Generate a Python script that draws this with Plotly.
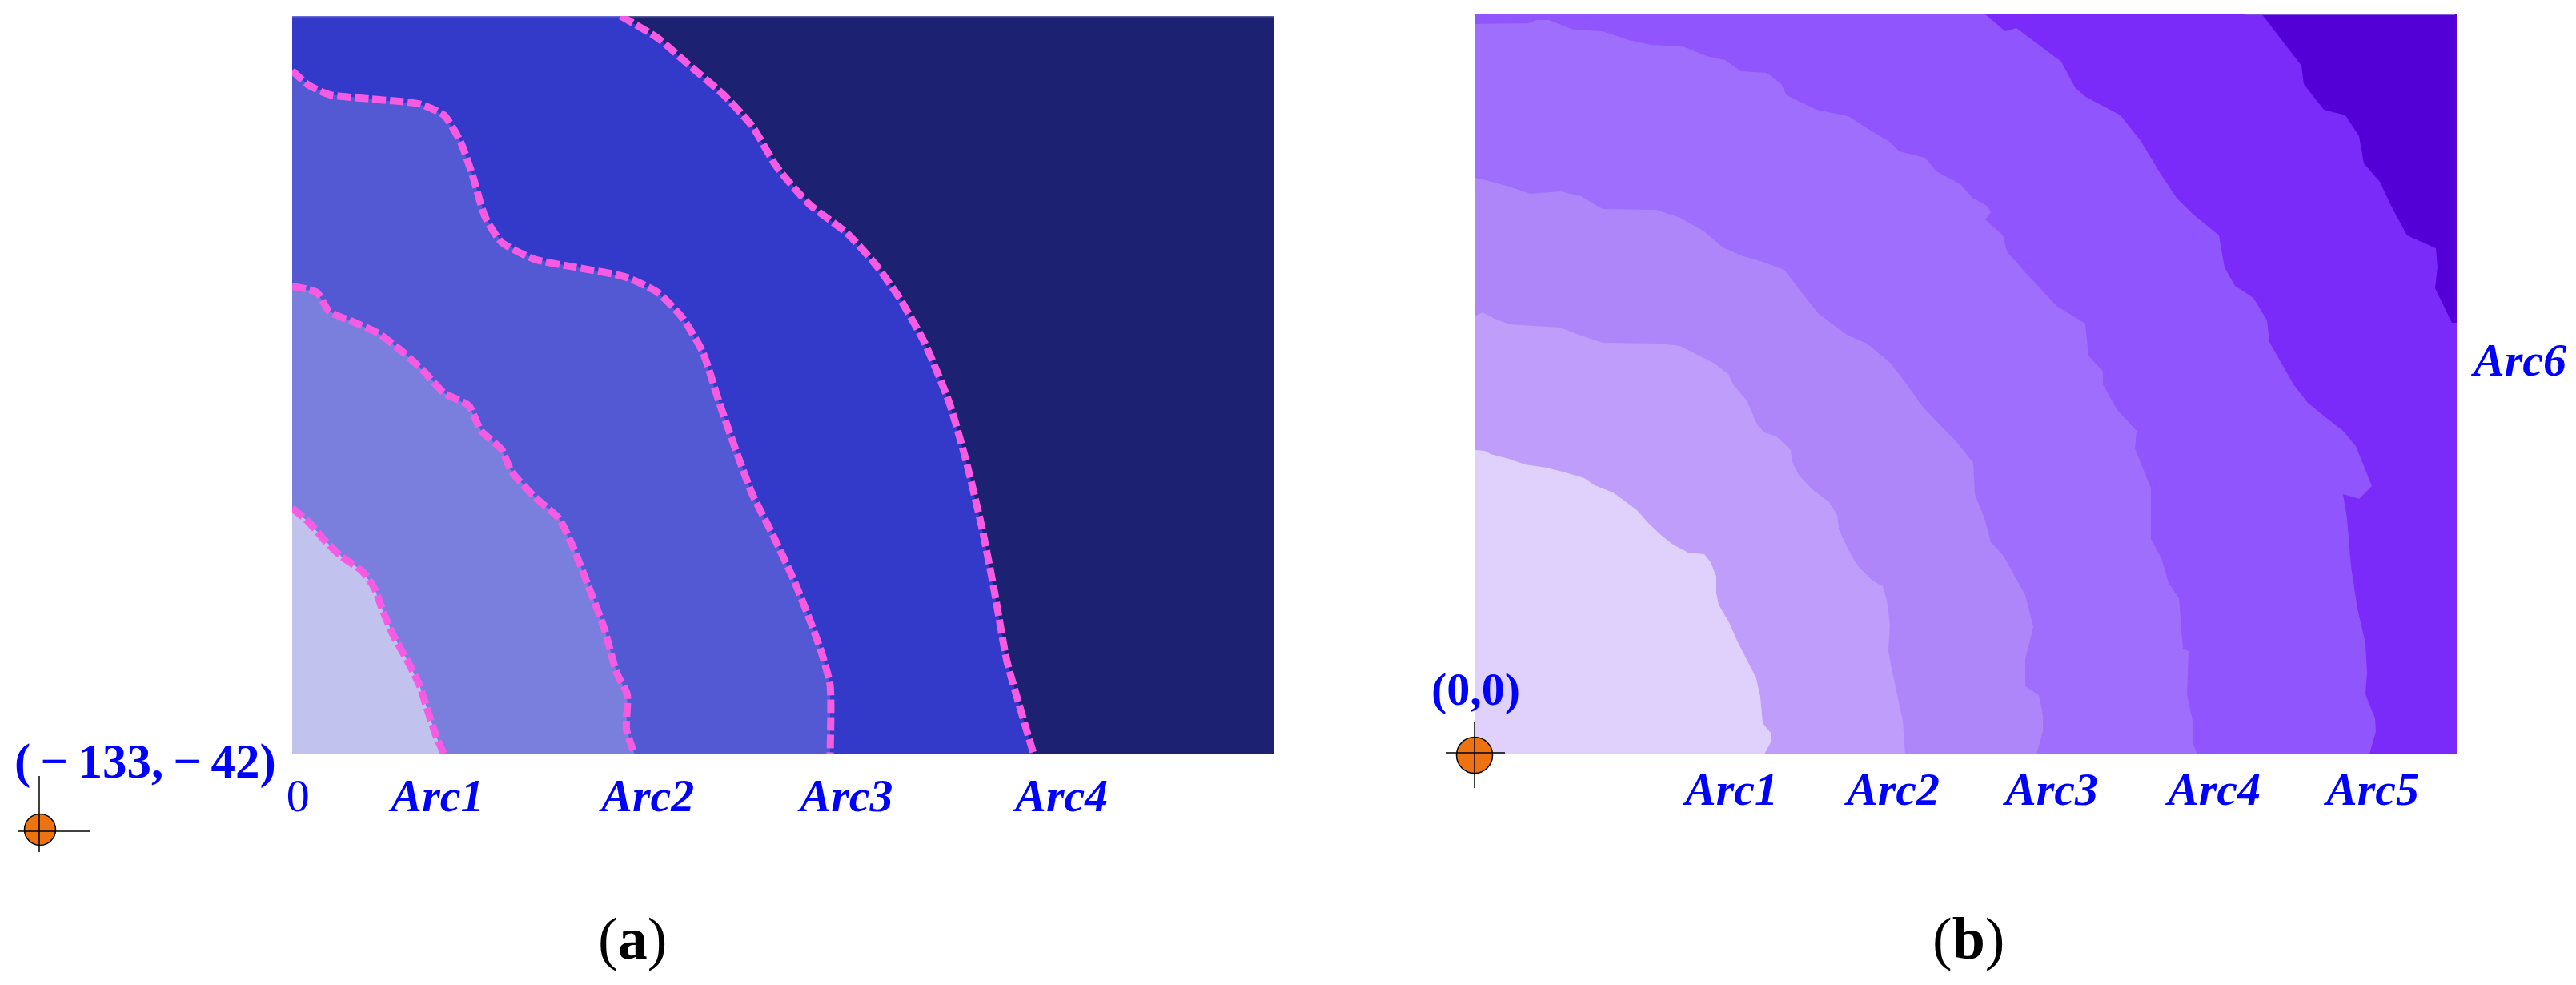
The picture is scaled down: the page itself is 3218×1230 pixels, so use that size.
"""Contour bands of two arc fields, panels (a) and (b)."""
import plotly.graph_objects as go

WIDTH = 3218
HEIGHT = 1230
SERIF = "Liberation Serif"
BLUE = "#0000FF"
MINUS = "\u2009\u2212\u2009"

# panel extents in data units
A_XMAX, A_YMAX = 1195, 1175
B_XMAX, B_YMAX = 1227, 925

# panel (a) boundaries, inner to outer
a_arc1_x = [0, 20, 40, 60, 85, 100, 110, 123, 140, 155, 165, 175, 185]
a_arc1_y = [392, 370, 340, 315, 292, 265, 230, 190, 150, 110, 70, 30, 0]
a_arc2_x = [0, 30, 45, 75, 105, 135, 160, 185, 215, 230, 255, 267, 295, 325, 342, 360, 380, 395, 408, 407, 417]
a_arc2_y = [745, 735, 705, 688, 670, 640, 610, 575, 555, 515, 485, 450, 410, 375, 330, 270, 200, 130, 95, 40, 0]
a_arc3_x = [0, 20, 45, 95, 155, 185, 205, 220, 235, 255, 295, 345, 405, 445, 475, 500, 520, 540, 560, 585, 610, 630, 645, 655, 655]
a_arc3_y = [1088, 1065, 1050, 1043, 1035, 1017, 975, 920, 855, 815, 788, 775, 760, 735, 695, 640, 560, 485, 415, 350, 280, 215, 160, 110, 0]
a_arc4_x = [400, 445, 485, 525, 560, 590, 630, 675, 710, 740, 770, 800, 820, 840, 855, 870, 885, 903]
a_arc4_y = [1175, 1140, 1095, 1050, 1000, 935, 875, 830, 780, 725, 655, 560, 470, 360, 260, 150, 80, 0]
a_fill = ["#C1C3EE", "#7A7EDC", "#5359D2", "#333AC9"]
a_background = "#1C2171"
a_top_edge_x = [0, 1195]
a_top_edge_y = [1174, 1174]

# panel (b) boundaries, inner to outer
b_arc1_x = [0, 13, 20, 43, 63, 90, 117, 137, 150, 173, 187, 203, 217, 233, 248, 267, 287, 295, 302, 302, 305, 318, 328, 342, 352, 357, 360, 370, 370, 362]
b_arc1_y = [380, 379, 375, 369, 362, 358, 351, 345, 336, 327, 317, 305, 289, 274, 262, 252, 250, 240, 222, 202, 187, 165, 142, 115, 95, 72, 39, 27, 15, 0]
b_arc2_x = [0, 10, 23, 43, 107, 133, 160, 233, 257, 277, 300, 317, 323, 340, 353, 362, 377, 395, 397, 405, 423, 443, 453, 455, 467, 480, 497, 510, 515, 519, 517, 520, 527, 535, 538]
b_arc2_y = [547, 552, 545, 537, 533, 523, 514, 513, 510, 500, 488, 475, 462, 442, 412, 402, 397, 380, 365, 349, 330, 315, 299, 282, 255, 234, 217, 210, 192, 162, 129, 112, 79, 42, 0]
b_arc3_x = [0, 10, 40, 70, 107, 133, 160, 227, 257, 287, 310, 333, 360, 387, 410, 430, 450, 467, 490, 510, 520, 540, 560, 583, 603, 623, 625, 638, 645, 660, 677, 688, 698, 688, 688, 705, 710, 710, 702]
b_arc3_y = [720, 718, 710, 700, 703, 697, 681, 680, 670, 653, 633, 623, 615, 605, 575, 550, 535, 523, 513, 497, 488, 462, 434, 410, 389, 364, 325, 292, 265, 249, 219, 199, 159, 119, 85, 74, 49, 29, 0]
b_arc4_x = [0, 67, 77, 93, 123, 160, 193, 220, 260, 290, 313, 333, 365, 383, 390, 427, 467, 490, 520, 530, 563, 577, 607, 622, 640, 645, 638, 660, 665, 687, 727, 763, 767, 785, 785, 803, 827, 825, 845, 845, 858, 867, 880, 885, 892, 890, 897, 898, 903]
b_arc4_y = [912, 913, 917, 917, 905, 903, 892, 886, 884, 872, 867, 853, 851, 837, 823, 805, 797, 782, 764, 753, 745, 728, 712, 695, 685, 677, 668, 648, 628, 603, 560, 538, 498, 478, 462, 430, 404, 382, 332, 269, 245, 214, 195, 132, 129, 75, 42, 12, 0]
b_arc5_x = [637, 663, 677, 733, 750, 762, 807, 833, 857, 877, 897, 930, 937, 950, 973, 990, 993, 1023, 1041, 1058, 1085, 1101, 1121, 1105, 1085, 1090, 1095, 1103, 1113, 1115, 1113, 1125, 1126, 1118]
b_arc5_y = [925, 903, 907, 865, 833, 822, 798, 765, 725, 695, 675, 648, 608, 585, 570, 542, 515, 462, 439, 425, 404, 385, 335, 319, 325, 295, 235, 182, 139, 102, 75, 45, 29, 0]
b_arc6_x = [983, 1001, 1033, 1036, 1061, 1088, 1105, 1111, 1131, 1145, 1165, 1201, 1203, 1200, 1221, 1227]
b_arc6_y = [925, 902, 860, 837, 805, 798, 772, 738, 715, 685, 648, 632, 608, 582, 539, 539]
b_fill = ["#E0D0FC", "#BE9DFB", "#AE86FA", "#A06EFC", "#9155FE", "#7A2BF9"]
b_background = "#5300D6"
b_top_edge_x = [963, 1225]
b_top_edge_y = [924, 924]

a_ticks = ["0", "<b><i>Arc1</i></b>", "<b><i>Arc2</i></b>", "<b><i>Arc3</i></b>", "<b><i>Arc4</i></b>"]
a_tick_pos = [7, 177, 433, 675, 937]
b_ticks = ["<b><i>Arc1</i></b>", "<b><i>Arc2</i></b>", "<b><i>Arc3</i></b>", "<b><i>Arc4</i></b>", "<b><i>Arc5</i></b>"]
b_tick_pos = [321, 523, 721, 924, 1122]
b_right_ticks = ["<b><i>Arc6</i></b>"]
b_right_tick_pos = [493]

# reference points and their cross hairs, page scale
a_origin_x, a_origin_y = [50], [1036]
a_cross_x = [22, 112, None, 49, 49]
a_cross_y = [1038, 1038, None, 969, 1064]
b_origin_x, b_origin_y = [1842], [943]
b_cross_x = [1806, 1880, None, 1842, 1842]
b_cross_y = [940, 940, None, 901, 984]


def band_polygon(xs, ys, xmax, ymax):
    """Close a boundary back through the origin corner of the panel."""
    px, py = list(xs), list(ys)
    if px[-1] == xmax:
        px.append(xmax)
        py.append(0)
    px.append(0)
    py.append(0)
    if px[0] > 0:
        px.append(0)
        py.append(ymax)
    px.append(xs[0])
    py.append(ys[0])
    return px, py


fig = go.Figure()

a_arcs = [(a_arc1_x, a_arc1_y), (a_arc2_x, a_arc2_y), (a_arc3_x, a_arc3_y), (a_arc4_x, a_arc4_y)]
for (xs, ys), color in reversed(list(zip(a_arcs, a_fill))):
    px, py = band_polygon(xs, ys, A_XMAX, A_YMAX)
    fig.add_trace(go.Scatter(x=px, y=py, mode="lines", fill="toself", fillcolor=color,
                             line={"width": 0}, hoverinfo="skip", showlegend=False, xaxis="x", yaxis="y"))
fig.add_trace(go.Scatter(x=a_top_edge_x, y=a_top_edge_y, mode="lines", line={"color": "rgba(255,255,255,0.25)", "width": 1.5},
                         hoverinfo="skip", showlegend=False, xaxis="x", yaxis="y"))
for xs, ys in a_arcs:
    fig.add_trace(go.Scatter(x=xs, y=ys, mode="lines", line={"color": "#F65CE3", "width": 9, "dash": "17px,5px", "shape": "spline", "smoothing": 0.6},
                             hoverinfo="skip", showlegend=False, xaxis="x", yaxis="y", cliponaxis=False))

b_arcs = [(b_arc1_x, b_arc1_y), (b_arc2_x, b_arc2_y), (b_arc3_x, b_arc3_y), (b_arc4_x, b_arc4_y), (b_arc5_x, b_arc5_y), (b_arc6_x, b_arc6_y)]
for (xs, ys), color in reversed(list(zip(b_arcs, b_fill))):
    px, py = band_polygon(xs, ys, B_XMAX, B_YMAX)
    fig.add_trace(go.Scatter(x=px, y=py, mode="lines", fill="toself", fillcolor=color,
                             line={"width": 0}, hoverinfo="skip", showlegend=False, xaxis="x2", yaxis="y2"))
fig.add_trace(go.Scatter(x=b_top_edge_x, y=b_top_edge_y, mode="lines", line={"color": "#8A55DD", "width": 2},
                         hoverinfo="skip", showlegend=False, xaxis="x2", yaxis="y2"))

for ox, oy, cx, cy, size in (
    (a_origin_x, a_origin_y, a_cross_x, a_cross_y, 39),
    (b_origin_x, b_origin_y, b_cross_x, b_cross_y, 45),
):
    fig.add_trace(go.Scatter(x=ox, y=oy, mode="markers", marker={"color": "#EC730F", "size": size, "line": {"color": "black", "width": 1.5}},
                             hoverinfo="skip", showlegend=False, xaxis="x3", yaxis="y3"))
    fig.add_trace(go.Scatter(x=cx, y=cy, mode="lines", line={"color": "black", "width": 1.5},
                             hoverinfo="skip", showlegend=False, xaxis="x3", yaxis="y3"))

tick_font = {"family": SERIF, "size": 58, "color": BLUE}
coord_font = {"family": SERIF, "size": 61, "color": BLUE}
label_font = {"family": SERIF, "size": 74, "color": "black"}
plain_axis = {"showgrid": False, "zeroline": False, "automargin": False, "ticks": ""}
fig.update_layout(
    width=WIDTH,
    height=HEIGHT,
    margin={"l": 0, "r": 0, "t": 0, "b": 0},
    paper_bgcolor="white",
    plot_bgcolor="rgba(0,0,0,0)",
    xaxis={"domain": [365 / WIDTH, 1591 / WIDTH], "range": [0, A_XMAX], "tickmode": "array", "tickvals": a_tick_pos,
           "ticktext": a_ticks, "tickfont": tick_font, "ticklabelstandoff": 12, "tickangle": 0, "anchor": "y", **plain_axis},
    yaxis={"domain": [1 - 942 / HEIGHT, 1 - 20 / HEIGHT], "range": [0, A_YMAX], "anchor": "x", "showticklabels": False, **plain_axis},
    xaxis2={"domain": [1842 / WIDTH, 3069 / WIDTH], "range": [0, B_XMAX], "tickmode": "array", "tickvals": b_tick_pos,
            "ticktext": b_ticks, "tickfont": tick_font, "ticklabelstandoff": 4, "tickangle": 0, "anchor": "y2", **plain_axis},
    yaxis2={"domain": [1 - 942 / HEIGHT, 1 - 17 / HEIGHT], "range": [0, B_YMAX], "anchor": "x2", "side": "right", "tickmode": "array",
            "tickvals": b_right_tick_pos, "ticktext": b_right_ticks, "tickfont": tick_font, "ticklabelstandoff": 20, **plain_axis},
    xaxis3={"domain": [0, 1], "range": [0, WIDTH], "visible": False, "anchor": "y3"},
    yaxis3={"domain": [0, 1], "range": [HEIGHT, 0], "visible": False, "anchor": "x3"},
    shapes=[
        {"type": "rect", "xref": "x domain", "yref": "y domain", "x0": 0, "x1": 1, "y0": 0, "y1": 1,
         "fillcolor": a_background, "line": {"width": 0}, "layer": "below"},
        {"type": "rect", "xref": "x2 domain", "yref": "y2 domain", "x0": 0, "x1": 1, "y0": 0, "y1": 1,
         "fillcolor": b_background, "line": {"width": 0}, "layer": "below"},
    ],
    annotations=[
        {"text": f"<b>({MINUS}133,{MINUS}42)</b>", "x": 181, "y": 951, "xref": "x3", "yref": "y3", "showarrow": False,
         "font": coord_font, "xanchor": "center", "yanchor": "middle"},
        {"text": "<b>(0,0)</b>", "x": 1843, "y": 860, "xref": "x3", "yref": "y3", "showarrow": False,
         "font": tick_font, "xanchor": "center", "yanchor": "middle"},
        {"text": "(<b>a</b>)", "x": 790, "y": 1172, "xref": "x3", "yref": "y3", "showarrow": False,
         "font": label_font, "xanchor": "center", "yanchor": "middle"},
        {"text": "(<b>b</b>)", "x": 2459, "y": 1172, "xref": "x3", "yref": "y3", "showarrow": False,
         "font": label_font, "xanchor": "center", "yanchor": "middle"},
    ],
)

fig.write_html("out.html", config={"displayModeBar": False}, post_script="document.body.style.margin='0';")
